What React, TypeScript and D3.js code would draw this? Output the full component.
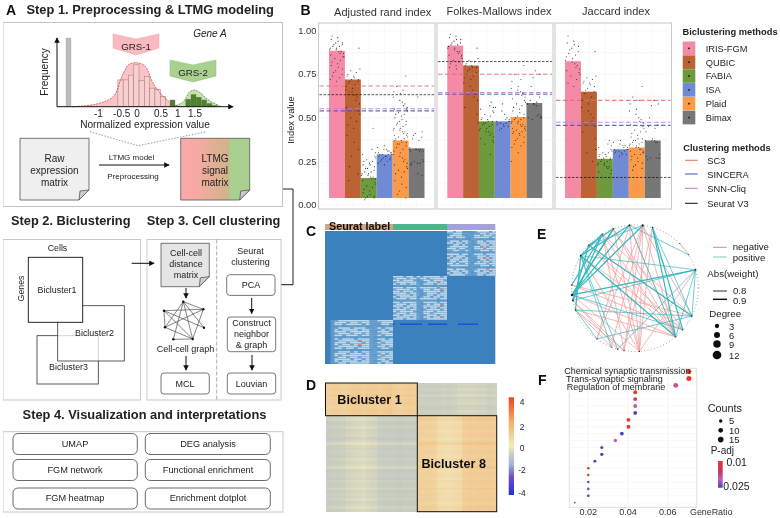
import * as d3 from 'd3';

const FONT = '"Liberation Sans", Arial, sans-serif';

// Panel A histogram
const pinkBins = [0.39, 0.39, 0.46, 0.61, 0.38, 0.44, 0.27, 0.25, 0.15];
const greenBins = [0.11, 0.18, 0.14, 0.1, 0.05, 0.02];
const histTicks = [-1, -0.5, 0, 0.5, 1, 1.5];
const pinkCurveX = [-1.68, -1.04, -0.61, -0.39, -0.22, -0.01, 0.21, 0.42, 0.68, 0.98, 1.15];
const pinkCurveY = [0, 0.04, 0.15, 0.44, 0.61, 0.64, 0.59, 0.34, 0.15, 0.02, 0];
const greenCurveX = [0.94, 1.19, 1.37, 1.49, 1.62, 1.84, 2.18];
const greenCurveY = [0, 0.07, 0.22, 0.24, 0.21, 0.1, 0];

// Step 4 boxes
const step4Left = ['UMAP', 'FGM network', 'FGM heatmap'];
const step4Right = ['DEG analysis', 'Functional enrichment', 'Enrichment dotplot'];

// Panel B
const methods = ['IRIS-FGM', 'QUBIC', 'FABIA', 'ISA', 'Plaid', 'Bimax'];
const methodColors = ['#f48aa6', '#bb6334', '#6d9a3c', '#6f8ad6', '#fb9a4a', '#777777'];
const clusterMethods = ['SC3', 'SINCERA', 'SNN-Cliq', 'Seurat V3'];
const clusterColors = ['#e0705c', '#3f55c4', '#c678c8', '#111111'];
const indexTitles = ['Adjusted rand index', 'Folkes-Mallows index', 'Jaccard index'];
const yTicks = [0, 0.25, 0.5, 0.75, 1];
const ariBars = [0.885, 0.72, 0.155, 0.29, 0.37, 0.325];
const fmBars = [0.915, 0.8, 0.48, 0.48, 0.505, 0.585];
const jacBars = [0.825, 0.65, 0.265, 0.32, 0.33, 0.37];
const ariLines = [0.683, 0.54, 0.552, 0.633];
const fmLines = [0.75, 0.635, 0.645, 0.823];
const jacLines = [0.6, 0.457, 0.475, 0.158];
const ariPoints = [
  [97, 96, 95, 94, 93, 93, 92, 92, 91, 91, 90, 90, 89, 89, 88, 88, 87, 87, 86, 85, 85, 84, 83, 82, 81, 80, 79, 78, 77, 76, 75, 74, 73, 72, 71],
  [90, 78, 77, 76, 75, 74, 74, 73, 72, 72, 71, 71, 70, 69, 68, 67, 66, 65, 63, 62, 60, 58, 56, 54, 52, 50, 48, 46, 44, 40, 36, 32, 28, 22, 18, 14],
  [44, 32, 30, 29, 28, 27, 26, 25, 25, 24, 23, 23, 22, 21, 21, 20, 19, 19, 18, 18, 17, 17, 16, 16, 15, 15, 14, 13, 12, 11, 10, 9, 8, 7, 6, 5, 5, 4, 4, 3],
  [34, 33, 32, 32, 31, 31, 30, 30, 30, 29, 29, 29, 29, 28, 28, 28, 27, 27, 26, 26, 25, 25, 24, 23],
  [74, 68, 66, 65, 64, 62, 60, 59, 58, 57, 56, 55, 55, 54, 53, 52, 52, 51, 50, 49, 48, 48, 47, 46, 46, 45, 44, 44, 43, 43, 42, 42, 41, 41, 40, 40, 39, 39, 38, 38, 37, 37, 36, 36, 35, 35, 34, 33, 32, 31, 30, 29, 28, 27, 26, 25, 24, 23, 22, 21, 20, 19, 18, 16, 14, 12, 10, 8, 6, 4],
  [62, 42, 41, 40, 39, 38, 37, 33, 32, 32, 32, 32, 32, 31, 31, 31, 26, 25, 25, 24, 24, 24, 23, 18, 17],
];
const fmPoints = [
  [98, 97, 96, 95, 95, 94, 93, 93, 92, 92, 91, 90, 90, 89, 88, 88, 87, 86, 86, 85, 84, 83, 82, 81, 80, 79, 78],
  [90, 84, 83, 82, 81, 80, 80, 79, 79, 78, 77, 76, 75, 74, 73, 72, 70, 68, 66, 64, 62, 60, 56, 52, 47],
  [59, 57, 56, 55, 54, 53, 52, 51, 50, 49, 49, 48, 48, 47, 47, 46, 46, 45, 44, 44, 43, 42, 42, 41, 40, 39, 38, 37, 36, 35, 29],
  [58, 56, 54, 52, 50, 49, 49, 48, 48, 48, 47, 47, 47, 46, 46, 45, 45, 44, 43],
  [80, 75, 72, 71, 68, 67, 66, 65, 64, 63, 62, 61, 60, 59, 58, 57, 56, 55, 54, 53, 52, 51, 50, 50, 49, 49, 48, 48, 47, 47, 46, 46, 45, 45, 44, 44, 43, 43, 42, 42, 41, 41, 40, 39, 38, 37, 36, 35, 34, 33, 30, 25],
  [77, 75, 73, 68, 62, 60, 59, 58, 58, 58, 58, 57, 52, 51, 51, 50, 50, 50, 49],
];
const jacPoints = [
  [97, 94, 93, 92, 91, 90, 89, 88, 87, 86, 85, 84, 83, 82, 81, 80, 79, 78, 77, 76, 75, 74, 72, 70, 68],
  [88, 74, 73, 72, 71, 70, 70, 69, 68, 67, 66, 65, 64, 62, 60, 58, 56, 54, 52, 50, 48, 45, 42, 38, 32, 30, 25],
  [37, 35, 34, 33, 32, 31, 30, 30, 29, 29, 28, 28, 27, 27, 26, 26, 25, 25, 24, 24, 23, 23, 22, 22, 21, 20, 19, 18],
  [37, 36, 35, 34, 34, 33, 33, 32, 32, 32, 31, 31, 31, 30, 30, 29, 29, 28],
  [68, 62, 60, 58, 55, 54, 52, 50, 49, 48, 47, 46, 45, 44, 43, 42, 41, 40, 39, 38, 38, 37, 37, 36, 36, 35, 35, 34, 34, 33, 33, 32, 32, 31, 31, 30, 30, 29, 29, 28, 27, 26, 25, 24, 23, 22, 21, 20],
  [60, 58, 57, 50, 46, 45, 44, 42, 38, 37, 37, 37, 36, 36, 29, 28, 27, 27, 27, 27, 26],
];
const jitter = [-0.31, 0.12, -0.08, 0.38, -0.42, 0.05, 0.27, -0.2, 0.44, -0.02, -0.36, 0.19, 0.33, -0.13, -0.46, 0.08, 0.41, -0.26, 0.22, -0.05, 0.35, -0.39, 0.15];

// Panel C: one string per row, 0 background, 1 pale blue, 2 white, 3 red
const seuratLabels = ['#d3a67f', '#54b38c', '#a3a3d8'];
const blockTopRight = [
  '2212200001222212', '1122211101122122', '0222210112212221', '2212221012222212',
  '0010100011001000', '1222122101221222', '2212212101222122', '0122121100122212',
  '1222222012212322', '2221220102223222', '1122112101122212', '0100100100010010',
  '2222122012221222', '3212221011222122', '2122212101223212', '0222122010122322',
  '1221222101212212', '2212112102222122', '1222222011122212', '0011000100010000',
  '2212221011222322', '1222122102212232', '2122212101222122', '1222221101221222',
];
const blockMiddle = [
  '2221220212222212', '1222122122122222', '2212221012212221', '1222222101222322',
  '2122122102221222', '0100100100100100', '2221222122222122', '1222212012212232',
  '2212221102222212', '2222122101222122', '1222212101221222', '2122222012212212',
  '1222122122222122', '0010100010010000', '2212222102222122', '1222122101212232',
  '2221222012222212', '1212212102122122', '2222122101222212', '2122221012221222',
  '1222122102212222', '2212222101222122', '1222212102212232', '2221222101222222',
];
const blockBottom = [
  '0122222222112222', '0222122122111222', '0221222212101221', '0010010010010010',
  '0122212221112122', '0212222122111212', '0222122222102221', '0122212212111222',
  '0221222122112122', '0100100100100100', '0212221222112212', '0122222122101222',
  '0222122212112122', '0212212322111222', '0122222122102212', '0221221222111221',
  '0010100010010000', '0122212122112222', '0222122212111212', '0212222222102122',
  '0122122122111222', '0222212212112212', '0212222122101221', '0122122222112122',
];
const blueDashes = [[393, 395], [400, 422], [428, 447], [458, 478]];

// Panel D
const dTopLeftCols = [0.8, 0.9, 0.9, 0.8, 0.9, 1.0, 1.0, 0.9, 1.0, 1.0, 0.9, 1.0, 1.1, 0.9, 0.8, 0.9, 1.0, 0.9];
const dTopRightCols = [-0.7, -0.7, -0.7, -0.7, -0.7, -0.65, -0.7, -0.65, -0.55, -0.55, -0.55, -0.55, -0.6, -0.6, -0.7, -0.65];
const dBottomLeftCols = [-0.75, -0.7, -0.7, -0.65, -0.55, -0.5, -0.45, -0.4, -0.5, -0.55, -0.7, -0.75, -0.75, -0.75, -0.8, -0.75, -0.75, -0.75];
const dBottomRightCols = [0.9, 0.85, 0.85, 0.8, 0.5, 0.45, 0.45, 0.5, 0.55, 0.9, 1.0, 0.95, 1.0, 1.0, 1.0, 0.95];
const dTopRows = [0.05, -0.05, 0.1, 0, 0.15, -0.05, 0.05, 0.1, -0.05, 0, 0.1, 0];
const dBottomRows = [0.05, 0.15, -0.05, 0, 0.1, -0.05, 0, 0.05, -0.1, 0, 0.25, 0, -0.05, 0.05, 0, -0.05, 0.1, 0, 0.05, 0.25, -0.05, 0, 0.05, -0.05, 0.1, 0, 0, 0.15, -0.05, 0.05, 0, 0.1, -0.05, 0, 0.15, 0];
const heatStops = [-4, -2.5, -1.5, -0.7, 0, 2, 4];
const heatColors = ['#2030e0', '#7050c0', '#9db5d8', '#c9cdbf', '#f0ebc0', '#f3ad6a', '#f04020'];
const heatLabels = [4, 2, 0, -2, -4];

// Panel E: node angles in degrees clockwise from the top
const nodeAngles = [7, 355, 340, 329, 313, 301, 264, 259, 250, 217, 202, 196, 190, 176, 140, 131, 116, 73, 58, 16, 45, 273];
const nodeDegree = [9, 6, 4, 3, 3, 6, 12, 6, 4, 2, 2, 2, 2, 3, 3, 2, 4, 6, 2, 3, 2, 3];
const positiveEdges = [
  [6, 17, 0.9], [7, 17, 0.8], [8, 16, 0.8], [4, 16, 0.9], [5, 17, 0.8], [5, 14, 0.9], [1, 6, 0.9], [2, 6, 0.9],
  [3, 7, 0.9], [0, 6, 0.9], [19, 14, 0.9], [19, 16, 0.8], [2, 4, 0.9], [3, 5, 0.9], [5, 1, 0.9], [4, 0, 0.8],
  [17, 11, 0.8], [16, 9, 0.8], [5, 11, 0.8], [5, 10, 0.8], [8, 9, 0.8], [1, 18, 0.8], [6, 0, 0.8], [14, 1, 0.8],
  [17, 14, 0.8], [6, 2, 0.9], [7, 4, 0.9], [21, 3, 0.9], [17, 16, 0.8], [8, 5, 0.9], [6, 15, 0.8], [19, 15, 0.9],
];
const negativeEdges = [
  [0, 13], [1, 13], [0, 12], [19, 12], [3, 14], [2, 15], [6, 14], [7, 11], [8, 10], [8, 12],
  [5, 13], [4, 15], [21, 15], [0, 10], [17, 13], [12, 3], [2, 13], [1, 9], [0, 9], [7, 12], [20, 18], [3, 16],
  [6, 13], [5, 15], [4, 14], [3, 13], [2, 14], [1, 14], [19, 13], [21, 16], [8, 14], [0, 14], [0, 16],
];
const degreeLegend = [3, 6, 9, 12];
const weightLegend = [0.8, 0.9];

// Panel F
const geneRatio = [0.0706, 0.0706, 0.064, 0.0436, 0.0436, 0.0436, 0.0436, 0.0402, 0.0402, 0.0369, 0.0336, 0.0268, 0.0268, 0.0233, 0.02, 0.02, 0.02, 0.02, 0.02, 0.0132];
const padj = [0.01, 0.01, 0.017, 0.01, 0.013, 0.018, 0.024, 0.01, 0.01, 0.025, 0.019, 0.024, 0.025, 0.024, 0.01, 0.01, 0.023, 0.023, 0.025, 0.012];
const counts = [15, 15, 14, 9, 9, 9, 9, 9, 9, 8, 7, 6, 6, 5, 4, 4, 4, 4, 4, 2];
const ratioTicks = [0.02, 0.04, 0.06];
const termLabels = ['Chemical synaptic transmission', 'Trans-synaptic signaling', 'Regulation of membrane'];
const countLegend = [5, 10, 15];

// Cell-cell graph sketch in panel A, step 3
const graphNodes = [[183.3, 301.7], [203.3, 309.3], [204, 327.7], [192.7, 339], [173.3, 339.3], [165, 327.3], [164, 310.7]];
const graphEdges = [[0, 1], [0, 2], [0, 3], [0, 4], [0, 5], [6, 1], [6, 3], [6, 2], [4, 3], [5, 3], [5, 1], [1, 3], [6, 5]];

const histX = d3.scaleLinear().domain([0, 1.5]).range([137, 195]);
const histY = d3.scaleLinear().domain([0, 1]).range([106.7, 38]);
const indexY = d3.scaleLinear().domain([0, 1]).range([205, 30.7]);
const heat = d3.scaleLinear<string>().domain(heatStops).range(heatColors);
const ratioX = d3.scaleLinear().domain([0.02, 0.06]).range([588.3, 667.8]);
const termY = d3.scalePoint<number>().domain(d3.range(geneRatio.length)).range([371.5, 502.7]);
const padjColor = d3.scaleLinear<string>().domain([0.01, 0.014, 0.019, 0.025]).range(['#e6392a', '#c03a60', '#c060b8', '#3f3fbf']);
const countR = d3.scaleSqrt().domain([0, 15]).range([0, 2.5]);
const degreeR = d3.scaleSqrt().domain([0, 12]).range([0, 4.3]);

const nodeXY = (i: number) => {
  const [x, y] = d3.pointRadial((nodeAngles[i] * Math.PI) / 180, 63.3);
  return [635 + x, 288.3 + y];
};
const pinkLine = d3.line<number>().x((d) => histX(d)).y((_, i) => histY(pinkCurveY[i])).curve(d3.curveCatmullRom);
const greenLine = d3.line<number>().x((d) => histX(d)).y((_, i) => histY(greenCurveY[i])).curve(d3.curveCatmullRom);
const pinkArea = d3.area<number>().x((d) => histX(d)).y0(histY(0)).y1((_, i) => histY(pinkCurveY[i])).curve(d3.curveCatmullRom);
const greenArea = d3.area<number>().x((d) => histX(d)).y0(histY(0)).y1((_, i) => histY(greenCurveY[i])).curve(d3.curveCatmullRom);

function Label({ x, y, children, size = 9, anchor = 'middle', weight, fill = '#222', style }: any) {
  return (
    <text x={x} y={y} fontSize={size} textAnchor={anchor} fontWeight={weight} fill={fill} style={style}>
      {children}
    </text>
  );
}

function Doc({ x, y, w, h, fill }: any) {
  const e = 10;
  const d = `M${x},${y}H${x + w}V${y + h - e}L${x + w - e},${y + h}H${x}Z`;
  return (
    <g stroke="#555" strokeWidth={0.8}>
      <path d={d} fill={fill} />
      <path d={`M${x + w},${y + h - e}L${x + w - e + 1},${y + h - e + 1}L${x + w - e},${y + h}Z`} fill="#ccc" />
    </g>
  );
}

function Arrow({ x1, y1, x2, y2 }: any) {
  return <line x1={x1} y1={y1} x2={x2} y2={y2} stroke="#111" strokeWidth={1} markerEnd="url(#arrow)" />;
}

function RoundBox({ x, y, w, h, r = 3, stroke = '#555' }: any) {
  return <rect x={x} y={y} width={w} height={h} rx={r} fill="#fff" stroke={stroke} strokeWidth={0.8} />;
}

function BarPanel({ px, pw, bx, bars, lines, points }: any) {
  const band = d3.scaleBand<string>().domain(methods).range(bx);
  const grid = [0.125, 0.25, 0.375, 0.5, 0.625, 0.75, 0.875, 1, 0];
  return (
    <g>
      <rect x={px} y={23} width={pw} height={186} fill="#fff" stroke="#c8c8c8" strokeWidth={1} />
      {grid.map((g) => (
        <line key={g} x1={px} x2={px + pw} y1={indexY(g)} y2={indexY(g)} stroke="#f3f3f3" strokeWidth={0.6} />
      ))}
      {methods.map((m) => (
        <line key={m} y1={23} y2={209} x1={band(m)! + band.bandwidth() / 2} x2={band(m)! + band.bandwidth() / 2} stroke="#f3f3f3" strokeWidth={0.6} />
      ))}
      {methods.map((m, i) => (
        <rect key={m} x={band(m)} width={band.bandwidth()} y={indexY(bars[i])} height={198 - indexY(bars[i])} fill={methodColors[i]} />
      ))}
      {lines.map((v: number, i: number) => (
        <line key={i} x1={px + 1} x2={px + pw - 1} y1={indexY(v)} y2={indexY(v)} stroke={clusterColors[i]} strokeWidth={i === 3 ? 0.7 : 1.1} strokeDasharray={i === 3 ? '2.5 1.5' : '4.5 2.5'} opacity={i === 3 ? 1 : 0.85} />
      ))}
      {methods.map((m, i) =>
        points[i].map((v: number, k: number) => (
          <circle key={`${m}${k}`} cx={band(m)! + band.bandwidth() * (0.5 + jitter[(k * 5 + i * 3) % jitter.length])} cy={indexY(v / 100)} r={0.55} fill="#111" opacity={0.85} />
        ))
      )}
    </g>
  );
}

function SpeckleBlock({ rows, x, y, w, h }: any) {
  const cx = d3.scaleBand<number>().domain(d3.range(rows[0].length)).range([x, x + w]);
  const cy = d3.scaleBand<number>().domain(d3.range(rows.length)).range([y, y + h]);
  const shade = ['#3a81bd', '#6ba3d0', '#c4dae9', '#d9807a'];
  return (
    <g>
      <rect x={x} y={y} width={w} height={h} fill="#5b97ca" />
      {rows.map((row: string, j: number) =>
        row.split('').map((c, i) => (c === '0' ? null : (
          <rect key={`${i}-${j}`} x={cx(i)} y={cy(j)} width={cx.bandwidth()} height={cy.bandwidth() * 0.8} fill={shade[+c]} />
        )))
      )}
    </g>
  );
}

function HeatBlock({ cols, rows, x, y, w, h }: any) {
  const cx = d3.scaleBand<number>().domain(d3.range(cols.length)).range([x, x + w]);
  const cy = d3.scaleBand<number>().domain(d3.range(rows.length)).range([y, y + h]);
  return (
    <g shapeRendering="crispEdges">
      {rows.map((r: number, j: number) =>
        cols.map((c: number, i: number) => (
          <rect key={`${i}-${j}`} x={cx(i)} y={cy(j)} width={cx.bandwidth() + 0.5} height={cy.bandwidth() + 0.5} fill={heat(c + r)} />
        ))
      )}
    </g>
  );
}

export default function App() {
  const binW = 0.137;
  return (
    <svg width={780} height={518} viewBox="0 0 780 518" style={{ position: 'absolute', left: 0, top: 0, fontFamily: FONT, background: '#fff' }}>
      <defs>
        <filter id="soft" x="0" y="0" width="100%" height="100%" filterUnits="objectBoundingBox">
          <feGaussianBlur stdDeviation={0.4} />
        </filter>
        <marker id="arrow" viewBox="0 0 8 8" refX={7} refY={4} markerWidth={5.5} markerHeight={5.5} orient="auto">
          <path d="M0,0L8,4L0,8Z" fill="#111" />
        </marker>
        <linearGradient id="ltmg" x1="0" x2="1" y1="0" y2="0">
          <stop offset="0" stopColor="#fba9a9" />
          <stop offset="0.2" stopColor="#f8a9a5" />
          <stop offset="0.7" stopColor="#d0b389" />
          <stop offset="0.71" stopColor="#a9d08e" />
          <stop offset="1" stopColor="#a9d08e" />
        </linearGradient>
        <linearGradient id="heatbar" x1="0" x2="0" y1="1" y2="0">
          {heatStops.map((s, i) => (
            <stop key={s} offset={(s + 4) / 8} stopColor={heatColors[i]} />
          ))}
        </linearGradient>
        <linearGradient id="padjbar" x1="0" x2="0" y1="0" y2="1">
          <stop offset="0" stopColor="#e6392a" />
          <stop offset="0.4" stopColor="#c03a60" />
          <stop offset="0.7" stopColor="#c060b8" />
          <stop offset="1" stopColor="#3f3fbf" />
        </linearGradient>
      </defs>
      <rect width={780} height={518} fill="#fff" />
      <g filter="url(#soft)">
        {/* Panel letters */}
        {[['A', 6, 15], ['B', 300.5, 14.5], ['C', 306, 236], ['D', 306, 390], ['E', 537, 239], ['F', 538, 385]].map(([t, x, y]) => (
          <Label key={t as string} x={x} y={y} size={14} anchor="start" weight="bold" fill="#111">{t}</Label>
        ))}

        {/* Panel A */}
        <Label x={26.5} y={14} size={12.85} anchor="start" weight="bold">Step 1. Preprocessing &amp; LTMG modeling</Label>
        <rect x={3} y={22.5} width={279.5} height={184} fill="#fff" stroke="#bdbdbd" strokeWidth={0.9} />
        <Label x={210} y={36.5} size={10} style={{ fontStyle: 'italic' }}>Gene A</Label>
        <rect x={66} y={histY(1)} width={5} height={histY(0) - histY(1)} fill="#bdbdbd" stroke="#999" strokeWidth={0.3} />
        <path d={pinkArea(pinkCurveX)!} fill="#f9c4c6" />
        <path d={greenArea(greenCurveX)!} fill="#c9e0b0" />
        {pinkBins.map((v, i) => (
          <rect key={i} x={histX(-0.495 + i * binW)} width={histX(binW) - histX(0)} y={histY(v)} height={histY(0) - histY(v)} fill="#f5d0d0" stroke="#b07070" strokeWidth={0.5} />
        ))}
        <rect x={histX(0.85)} width={histX(binW) - histX(0)} y={histY(0.1)} height={histY(0) - histY(0.1)} fill="#4f7f33" />
        {greenBins.map((v, i) => (
          <rect key={i} x={histX(1.255 + i * binW)} width={histX(binW) - histX(0)} y={histY(v)} height={histY(0) - histY(v)} fill="#4f7f33" />
        ))}
        <path d={pinkLine(pinkCurveX)!} fill="none" stroke="#c0392b" strokeWidth={0.7} strokeDasharray="2 1" />
        <path d={greenLine(greenCurveX)!} fill="none" stroke="#3e7a28" strokeWidth={0.7} strokeDasharray="2 1" />
        <Arrow x1={57} y1={106.7} x2={233} y2={106.7} />
        <Arrow x1={57} y1={106.7} x2={57} y2={38} />
        <text transform="translate(48,72) rotate(-90)" fontSize={10.1} textAnchor="middle" fill="#222">Frequency</text>
        {histTicks.map((t) => (
          <Label key={t} x={t === 0.5 ? 161 : t === 1 ? 177.7 : t === -0.5 ? 121.7 : histX(t)} y={116.5} size={10}>{t}</Label>
        ))}
        <Label x={145} y={127.5} size={10.1}>Normalized expression value</Label>
        <path d="M113,34L136,39L159,34V48L136,55L113,48Z" fill="#f9b9bd" stroke="#f3a5aa" strokeWidth={0.5} />
        <Label x={136} y={49.5} size={9.7}>GRS-1</Label>
        <path d="M170,60L193,65L216,60V76L193,82L170,76Z" fill="#a9d08e" stroke="#8fbf70" strokeWidth={0.5} />
        <Label x={193} y={75.5} size={9.7}>GRS-2</Label>
        <polyline points="90,131.7 138,145.7 206.7,131.7" fill="none" stroke="#555" strokeWidth={0.6} strokeDasharray="1.5 1.5" />
        <Doc x={20} y={138.3} w={69} h={61.7} fill="#efefef" />
        {['Raw', 'expression', 'matrix'].map((t, i) => (
          <Label key={t} x={54.5} y={162 + i * 12} size={10}>{t}</Label>
        ))}
        <Doc x={180.7} y={138.3} w={69} h={61.7} fill="url(#ltmg)" />
        {['LTMG', 'signal', 'matrix'].map((t, i) => (
          <Label key={t} x={215} y={162 + i * 12} size={10}>{t}</Label>
        ))}
        <Label x={131.5} y={160} size={8}>LTMG model</Label>
        <Arrow x1={99} y1={165} x2={169} y2={165} />
        <Label x={133} y={178.5} size={8.1}>Preprocessing</Label>
        <polyline points="283,189 293,189 293,284.7" fill="none" stroke="#222" strokeWidth={1} />
        <Arrow x1={293} y1={284.7} x2={276} y2={284.7} />

        {/* Steps 2 and 3 */}
        <Label x={11} y={225} size={12.8} anchor="start" weight="bold">Step 2. Biclustering</Label>
        <Label x={146.7} y={225} size={12.8} anchor="start" weight="bold">Step 3. Cell clustering</Label>
        <rect x={3} y={239.5} width={137.5} height={160.5} fill="#fff" stroke="#c4c4c4" strokeWidth={0.9} />
        <rect x={147} y={239.5} width={134} height={160.5} fill="#fff" stroke="#c4c4c4" strokeWidth={0.9} />
        <line x1={216.7} x2={216.7} y1={239.5} y2={400} stroke="#888" strokeWidth={0.7} strokeDasharray="4 2" />
        <Label x={57.5} y={251} size={8.8}>Cells</Label>
        <text transform="translate(23.5,288.5) rotate(-90)" fontSize={8.8} textAnchor="middle" fill="#222">Genes</text>
        <rect x={37} y={335.7} width={61.3} height={48.3} fill="none" stroke="#333" strokeWidth={0.8} />
        <rect x={57.7} y={305.7} width={66.6} height={55.3} fill="#fff" fillOpacity={0.75} stroke="#333" strokeWidth={0.8} />
        <rect x={28.3} y={257.3} width={54.4} height={65} fill="#fff" stroke="#111" strokeWidth={0.9} />
        <Label x={57} y={292.5} size={8.9}>Bicluster1</Label>
        <Label x={94.5} y={336} size={8.9}>Bicluster2</Label>
        <Label x={68.5} y={370} size={8.9}>Bicluster3</Label>
        <Arrow x1={131.7} y1={263.3} x2={154} y2={263.3} />
        <Doc x={161} y={243.3} w={48.3} h={43.4} fill="#e5e5e5" />
        {['Cell-cell', 'distance', 'matrix'].map((t, i) => (
          <Label key={t} x={186} y={255.5 + i * 11.2} size={9}>{t}</Label>
        ))}
        <Arrow x1={186} y1={288} x2={186} y2={298} />
        <g stroke="#333" strokeWidth={0.6}>
          {graphEdges.map(([a, b], i) => (
            <line key={i} x1={graphNodes[a][0]} y1={graphNodes[a][1]} x2={graphNodes[b][0]} y2={graphNodes[b][1]} />
          ))}
        </g>
        {graphNodes.map(([x, y], i) => (
          <circle key={i} cx={x} cy={y} r={1.2} fill="#111" />
        ))}
        <Label x={185.5} y={351.5} size={9}>Cell-cell graph</Label>
        <Arrow x1={186} y1={356} x2={186} y2={370} />
        <RoundBox x={161} y={373} w={48.3} h={21} />
        <Label x={185} y={387} size={9}>MCL</Label>
        {['Seurat', 'clustering'].map((t, i) => (
          <Label key={t} x={250.5} y={253.5 + i * 11} size={9}>{t}</Label>
        ))}
        <RoundBox x={226.7} y={274.7} w={48.3} h={20.7} />
        <Label x={251} y={288} size={9}>PCA</Label>
        <Arrow x1={251.7} y1={298} x2={251.7} y2={313.5} />
        <RoundBox x={227.3} y={317} w={48.4} h={34.7} />
        {['Construct', 'neighbor', '& graph'].map((t, i) => (
          <Label key={t} x={251.5} y={326 + i * 11} size={9}>{t}</Label>
        ))}
        <Arrow x1={252} y1={355} x2={252} y2={370} />
        <RoundBox x={227.3} y={373} w={48.4} h={21} />
        <Label x={251.5} y={387} size={9}>Louvian</Label>

        {/* Step 4 */}
        <Label x={144.5} y={419} size={12.85} weight="bold">Step 4. Visualization and interpretations</Label>
        <rect x={3} y={431.7} width={280} height={80.3} fill="#fff" stroke="#c4c4c4" strokeWidth={0.9} />
        {step4Left.map((t, i) => (
          <g key={t}>
            <RoundBox x={13} y={[433.5, 459.5, 488][i]} w={124.3} h={21} r={5} stroke="#444" />
            <Label x={75} y={[446.5, 472.5, 501][i]} size={9.2}>{t}</Label>
          </g>
        ))}
        {step4Right.map((t, i) => (
          <g key={t}>
            <RoundBox x={145.3} y={[433.5, 459.5, 488][i]} w={125} h={21} r={5} stroke="#444" />
            <Label x={208} y={[446.5, 472.5, 501][i]} size={9.2}>{t}</Label>
          </g>
        ))}

        {/* Panel B */}
        {indexTitles.map((t, i) => (
          <Label key={t} x={[382.7, 499, 616][i]} y={[16, 15, 15][i]} size={11} fill="#333">{t}</Label>
        ))}
        {yTicks.map((t) => (
          <Label key={t} x={316.5} y={indexY(t) + 3.2} size={9.4} anchor="end" fill="#333">{t.toFixed(2)}</Label>
        ))}
        <text transform="translate(294,120) rotate(-90)" fontSize={9.3} textAnchor="middle" fill="#222">Index value</text>
        <BarPanel px={318.5} pw={116.5} bx={[329, 424.5]} bars={ariBars} lines={ariLines} points={ariPoints} />
        <BarPanel px={437} pw={116} bx={[447.3, 542.3]} bars={fmBars} lines={fmLines} points={fmPoints} />
        <BarPanel px={555} pw={116.5} bx={[565, 660.7]} bars={jacBars} lines={jacLines} points={jacPoints} />
        <Label x={682.5} y={35} size={9.3} anchor="start" weight="bold">Biclustering methods</Label>
        {methods.map((m, i) => (
          <g key={m}>
            <rect x={682.7} y={41.5 + i * 13.85} width={12.6} height={13.6} fill={methodColors[i]} />
            <circle cx={689} cy={48.3 + i * 13.85} r={0.9} fill="#111" />
            <Label x={705.7} y={51.7 + i * 13.85} size={9.3} anchor="start">{m}</Label>
          </g>
        ))}
        <Label x={683.3} y={150.5} size={9.3} anchor="start" weight="bold">Clustering methods</Label>
        {clusterMethods.map((m, i) => (
          <g key={m}>
            <line x1={685} x2={697.7} y1={[160.3, 174, 188.3, 203.3][i]} y2={[160.3, 174, 188.3, 203.3][i]} stroke={clusterColors[i]} strokeWidth={1} />
            <Label x={707.3} y={[163.7, 177.7, 191.7, 207][i]} size={9.3} anchor="start">{m}</Label>
          </g>
        ))}

        {/* Panel C */}
        {seuratLabels.map((c, i) => (
          <rect key={c} x={[325, 393, 447][i]} y={224} width={[68, 54, 48.3][i]} height={6} fill={c} />
        ))}
        <rect x={325} y={231} width={170.3} height={133} fill="#3a81bd" />
        <SpeckleBlock rows={blockTopRight} x={447} y={231} w={48.3} h={45} />
        <SpeckleBlock rows={blockMiddle} x={393} y={276} w={54} h={44} />
        <SpeckleBlock rows={blockBottom} x={330.5} y={320} w={62.5} h={44} />
        {blueDashes.map(([a, b]) => (
          <rect key={a} x={a} y={323.6} width={b - a} height={1.2} fill="#2040e0" />
        ))}
        <Label x={329} y={230} size={10.8} anchor="start" weight="bold" fill="#111">Seurat label</Label>

        {/* Panel D */}
        <HeatBlock cols={dTopLeftCols} rows={dTopRows} x={325.5} y={383} w={91.8} h={32.7} />
        <HeatBlock cols={dTopRightCols} rows={dTopRows} x={417.3} y={383} w={79.4} h={32.7} />
        <HeatBlock cols={dBottomLeftCols} rows={dBottomRows} x={325.5} y={415.7} w={91.8} h={96} />
        <HeatBlock cols={dBottomRightCols} rows={dBottomRows} x={417.3} y={415.7} w={79.4} h={96} />
        <rect x={325.5} y={383} width={91.8} height={32.7} fill="none" stroke="#111" strokeWidth={1} />
        <rect x={417.3} y={415.7} width={79.4} height={96} fill="none" stroke="#111" strokeWidth={1} />
        <Label x={369.5} y={403.5} size={12.6} weight="bold" fill="#111">Bicluster 1</Label>
        <Label x={453.7} y={467.5} size={12.6} weight="bold" fill="#111">Bicluster 8</Label>
        <rect x={508.7} y={397.3} width={5.3} height={97.7} fill="url(#heatbar)" />
        {heatLabels.map((t, i) => (
          <Label key={t} x={522} y={[404.5, 430, 450.5, 472.5, 495.5][i]} size={8.4}>{t}</Label>
        ))}

        {/* Panel E */}
        <circle cx={635} cy={288.3} r={63.3} fill="none" stroke="#444" strokeWidth={0.7} strokeDasharray="0.7 2.6" />
        {negativeEdges.map(([a, b], i) => {
          const [x1, y1] = nodeXY(a);
          const [x2, y2] = nodeXY(b);
          return <line key={i} x1={x1} y1={y1} x2={x2} y2={y2} stroke="#eda5a2" strokeWidth={0.8} />;
        })}
        {positiveEdges.map(([a, b, w], i) => {
          const [x1, y1] = nodeXY(a);
          const [x2, y2] = nodeXY(b);
          return <line key={i} x1={x1} y1={y1} x2={x2} y2={y2} stroke="#35b8be" strokeWidth={w > 0.85 ? 1.2 : 0.7} />;
        })}
        {nodeAngles.map((_, i) => {
          const [x, y] = nodeXY(i);
          return <circle key={i} cx={x} cy={y} r={Math.max(0.6, degreeR(nodeDegree[i]) * 0.3)} fill="#222" />;
        })}
        <line x1={713} x2={726.7} y1={247.3} y2={247.3} stroke="#e87fa0" strokeWidth={1} />
        <Label x={732.7} y={249.7} size={9.6} anchor="start">negative</Label>
        <line x1={713} x2={726.7} y1={257} y2={257} stroke="#7fc8c8" strokeWidth={1} />
        <Label x={732.7} y={260.5} size={9.6} anchor="start">positive</Label>
        <Label x={707.3} y={277} size={9.7} anchor="start">Abs(weight)</Label>
        {weightLegend.map((w, i) => (
          <g key={w}>
            <line x1={713} x2={727} y1={291 + i * 8.3} y2={291 + i * 8.3} stroke="#111" strokeWidth={w > 0.85 ? 1.5 : 0.9} />
            <Label x={733} y={293.7 + i * 10.4} size={9.6} anchor="start">{w}</Label>
          </g>
        ))}
        <Label x={709.3} y={317} size={9.7} anchor="start">Degree</Label>
        {degreeLegend.map((d, i) => (
          <g key={d}>
            <circle cx={717} cy={[326, 335, 344, 355][i]} r={degreeR(d)} fill="#111" />
            <Label x={729} y={[329.5, 338.7, 348, 358.5][i]} size={9.4} anchor="start">{d}</Label>
          </g>
        ))}

        {/* Panel F */}
        <rect x={569.3} y={368.3} width={127.4} height={139} fill="#fff" stroke="#dcdcdc" strokeWidth={0.9} />
        {ratioTicks.map((t) => (
          <line key={t} x1={ratioX(t)} x2={ratioX(t)} y1={368.3} y2={507.3} stroke="#eeeeee" strokeWidth={0.6} />
        ))}
        {geneRatio.map((_, i) => (
          <line key={i} x1={569.3} x2={696.7} y1={termY(i)} y2={termY(i)} stroke="#f2f2f2" strokeWidth={0.5} />
        ))}
        {geneRatio.map((r, i) => (
          <circle key={i} cx={ratioX(r)} cy={termY(i)} r={countR(counts[i])} fill={padjColor(padj[i])} />
        ))}
        {termLabels.map((t, i) => (
          <Label key={t} x={[564.3, 566, 566.7][i]} y={[374, 382, 389.7][i]} size={9} anchor="start">{t}</Label>
        ))}
        {ratioTicks.map((t) => (
          <Label key={t} x={ratioX(t)} y={515} size={9.1} fill="#333">{t.toFixed(2)}</Label>
        ))}
        <Label x={690} y={515} size={8.9} fill="#333" anchor="start">GeneRatio</Label>
        <Label x={707.7} y={411.7} size={10.8} anchor="start">Counts</Label>
        {countLegend.map((c, i) => (
          <g key={c}>
            <circle cx={720.7} cy={421 + i * 9.3} r={countR(c) + 0.3} fill="#111" />
            <Label x={729} y={424.3 + i * 9.5} size={9.5} anchor="start">{c}</Label>
          </g>
        ))}
        <Label x={710.7} y={454.3} size={10} anchor="start">P-adj</Label>
        <rect x={718} y={461} width={4.7} height={26.7} fill="url(#padjbar)" />
        <Label x={726.5} y={465.7} size={10.5} anchor="start">0.01</Label>
        <Label x={723.3} y={490} size={10.5} anchor="start">0.025</Label>
      </g>
    </svg>
  );
}
